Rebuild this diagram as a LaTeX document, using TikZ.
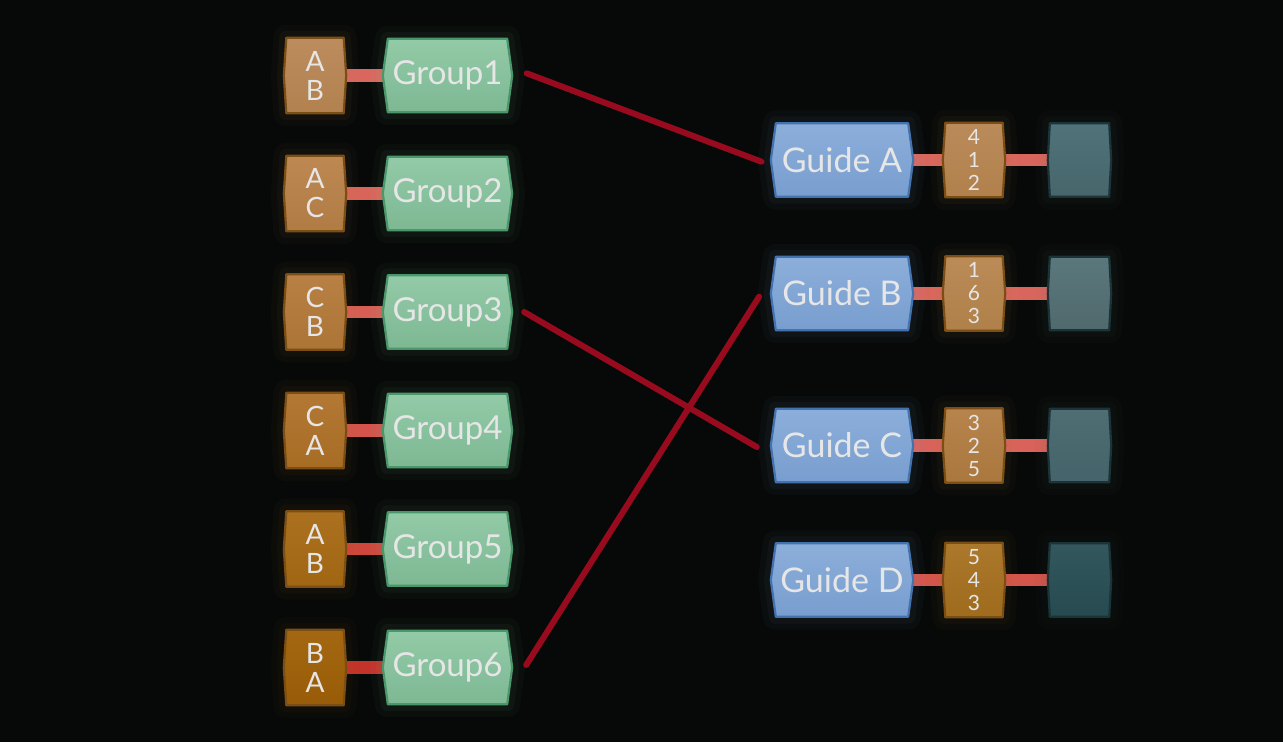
\documentclass[tikz,border=0pt]{standalone}
\usepackage{fontspec}
\setmainfont{Lato}
\usetikzlibrary{backgrounds}
\pgfdeclarelayer{deep}
\pgfsetlayers{deep,background,main}
\definecolor{bgc}{HTML}{070908}
\definecolor{txt}{HTML}{E6E6E6}
\definecolor{linkc}{HTML}{980A1E}
\definecolor{gtop}{HTML}{93CAA7}
\definecolor{gbot}{HTML}{7DB893}
\definecolor{gbrd}{HTML}{4A976C}
\definecolor{btop}{HTML}{8CAEDA}
\definecolor{bbot}{HTML}{789ECF}
\definecolor{bbrd}{HTML}{4373AE}
\definecolor{obrd}{HTML}{7A4E14}
\definecolor{tbrd}{HTML}{1C3438}
\newcommand\polyof[2]{([xshift=#2]#1.north west) -- ([xshift=-#2]#1.north east) -- (#1.east) -- ([xshift=-#2]#1.south east) -- ([xshift=#2]#1.south west) -- (#1.west) -- cycle}
\newcommand\boxit[5]{%
  \draw[draw=#3,opacity=.03,line width=26pt,line join=round] \polyof{#1}{#2};
  \draw[draw=#3,opacity=.045,line width=14pt,line join=round] \polyof{#1}{#2};
  \shadedraw[top color=#3,bottom color=#4,draw=#5,line width=2.2pt,line join=round] \polyof{#1}{#2};}
\begin{document}
\begin{tikzpicture}[x=1pt,y=-1pt,
  base/.style={inner sep=0pt,text=txt,align=center},
  grp/.style={base,minimum width=129pt,minimum height=73pt,font=\fontsize{33}{33}\selectfont},
  abox/.style={base,minimum width=62pt,minimum height=75pt,font=\fontsize{28}{30}\selectfont},
  guide/.style={base,minimum width=142pt,minimum height=73pt,font=\fontsize{34}{34}\selectfont},
  numbox/.style={base,minimum width=62pt,minimum height=74pt,font=\fontsize{21}{23}\selectfont},
  tealbox/.style={base,minimum width=63pt,minimum height=73pt},
  bar/.style={line width=12.5pt},
  link/.style={linkc,line width=6pt,line cap=round}]
\begin{pgfonlayer}{deep}
\fill[bgc] (0,0) rectangle (1283,742);
\end{pgfonlayer}
\useasboundingbox (0,0) rectangle (1283,742);
% left column
\foreach \i/\y/\ta/\tb/\oca/\ocb/\bc in {
  1/75.5/A/B/BC8C5E/B2814F/D9675E,
  2/193.5/A/C/BD8852/B17B44/D9645A,
  3/312/C/B/B88044/AC7536/D65E55,
  4/430.5/C/A/B37834/A76C24/D4544C,
  5/549/A/B/AB7120/A06612/CF463C,
  6/667.5/B/A/A46711/985C08/C3332A}{
  \definecolor{ot}{HTML}{\oca}\definecolor{ob}{HTML}{\ocb}\definecolor{brc}{HTML}{\bc}
  \node[abox] (ab\i) at (315,\y) {\ta\\[-1pt]\tb};
  \node[grp] (g\i) at (447.5,\y) {Group\i};
  \begin{pgfonlayer}{background}
    \draw[bar,brc] (ab\i.east) -- (g\i.west);
    \boxit{ab\i}{2.5pt}{ot}{ob}{obrd}
    \boxit{g\i}{5pt}{gtop}{gbot}{gbrd}
  \end{pgfonlayer}
}
% right column
\foreach \n/\y/\nums/\oca/\ocb/\bc/\tca/\tcb in {
  A/160/{4\\1\\2}/BA8B5A/B1804C/D9665D/50727A/46666B,
  B/293.5/{1\\6\\3}/BB8B58/B0804A/D9665D/5A787C/50696D,
  C/445.5/{3\\2\\5}/B6844C/AA783E/D9625A/4E6E73/44636A,
  D/580/{5\\4\\3}/AB782C/9F6C1E/D4554C/32575C/264A50}{
  \definecolor{ot}{HTML}{\oca}\definecolor{ob}{HTML}{\ocb}\definecolor{brc}{HTML}{\bc}
  \definecolor{tt}{HTML}{\tca}\definecolor{tb}{HTML}{\tcb}
  \node[guide] (gd\n) at (842,\y) {Guide \n};
  \node[numbox] (nb\n) at (974,\y) {\nums};
  \node[tealbox] (tl\n) at (1079.5,\y) {};
  \begin{pgfonlayer}{background}
    \draw[bar,brc] (gd\n.east) -- (nb\n.west);
    \draw[bar,brc] (nb\n.east) -- (tl\n.west);
    \boxit{gd\n}{5pt}{btop}{bbot}{bbrd}
    \boxit{nb\n}{2.5pt}{ot}{ob}{obrd}
    \boxit{tl\n}{2pt}{tt}{tb}{tbrd}
  \end{pgfonlayer}
}
% connector end points
\coordinate (s1) at ([xshift=14.5pt,yshift=2.2pt]g1.east);
\coordinate (e1) at ([xshift=-9.3pt,yshift=-1.7pt]gdA.west);
\coordinate (s3) at ([xshift=12pt]g3.east);
\coordinate (e3) at ([xshift=-14pt,yshift=-1.5pt]gdC.west);
\coordinate (s6) at ([xshift=14pt,yshift=2.5pt]g6.east);
\coordinate (e6) at ([xshift=-11.7pt,yshift=-3.2pt]gdB.west);
% connectors
\draw[link] (s1) -- (e1);
\draw[link] (s3) -- (e3);
\draw[link] (s6) -- (e6);
\end{tikzpicture}
\end{document}
